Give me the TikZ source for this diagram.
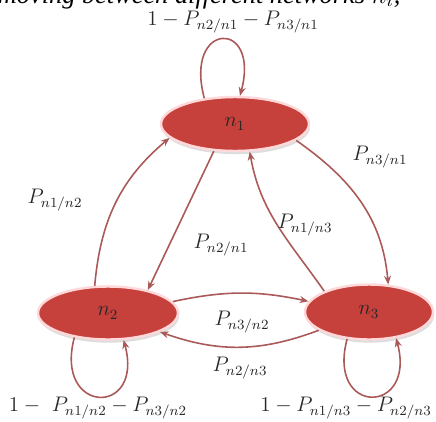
\documentclass[tikz,border=0pt]{standalone}
\usepackage{fontspec}
\newfontfamily\capfont{Liberation Serif}
\usetikzlibrary{shapes.geometric,arrows.meta,shadows}
\definecolor{stred}{RGB}{198,64,60}
\definecolor{edgered}{RGB}{170,88,88}
\definecolor{labgray}{RGB}{40,40,40}

\begin{document}
\begin{tikzpicture}[
  state/.style={ellipse, fill=stred, draw=red!15, line width=1.4pt, inner sep=0pt,
    drop shadow={shadow xshift=0.6pt, shadow yshift=-1.8pt, fill=gray!45, opacity=0.6},
    font=\large, text=black!85},
  edge/.style={draw=edgered, line width=0.9pt, -{Stealth[length=5pt,width=4pt]}},
  lab/.style={font=\large, text=labgray}
]
\useasboundingbox (0,0) rectangle (8.72,8.42);
\begin{scope}
  \clip (0,0) rectangle (8.72,8.42);
  \node[anchor=base west, inner sep=0pt, font=\fontsize{15}{18}\selectfont\capfont\itshape] (cap) at (-0.05,8.36) {moving between different networks $n_i$,};
\end{scope}

\foreach \i/\x/\y/\w/\h in {1/4.70/5.94/2.96/1.08, 2/2.16/2.16/2.80/1.06, 3/7.38/2.18/2.56/1.10}
  \node[state, minimum width=\w cm, minimum height=\h cm] (n\i) at (\x,\y) {$n_\i$};

% self loops
\draw[edge] (n1.140) .. controls +(105:1.6) and +(75:1.6) .. (n1.80);
\draw[edge] (n2.216) .. controls +(-105:1.6) and +(-75:1.6) .. (n2.300);
\draw[edge] (n3.231) .. controls +(-105:1.6) and +(-75:1.6) .. (n3.316);

% transitions
\draw[edge] (n2.116) to[out=85,in=220] (n1.192);
\draw[edge] (n1.232) -- (n2.30);
\draw[edge] (n3.155) to[out=125,in=280] (n1.298);
\draw[edge] (n1.345) to[out=-35,in=95] (n3.55);
\draw[edge] (n2.10) to[bend left=12] (n3.170);
\draw[edge] (n3.200) to[bend left=20] (n2.340);

\node[lab] (stay1) at (4.66,7.98) {$1-P_{n2/n1}-P_{n3/n1}$};
\node[lab] (stay2) at (1.96,0.26) {$1-\ P_{n1/n2}-P_{n3/n2}$};
\node[lab] (stay3) at (6.92,0.26) {$1-P_{n1/n3}-P_{n2/n3}$};

\node[lab] (p12) at (1.10,4.42) {$P_{n1/n2}$};
\node[lab] (p21) at (4.42,3.52) {$P_{n2/n1}$};
\node[lab] (p13) at (6.10,3.92) {$P_{n1/n3}$};
\node[lab] (p31) at (7.60,5.28) {$P_{n3/n1}$};
\node[lab] (p32) at (4.84,1.98) {$P_{n3/n2}$};
\node[lab] (p23) at (4.80,1.06) {$P_{n2/n3}$};
\end{tikzpicture}
\end{document}
